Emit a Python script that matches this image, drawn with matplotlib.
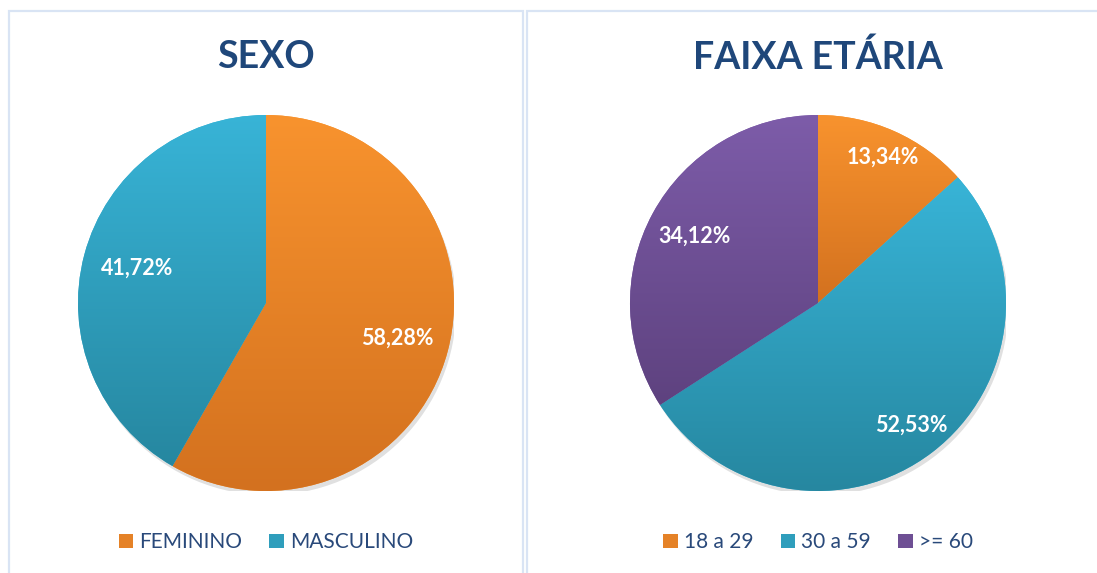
#!/usr/bin/env python3

import numpy as np
import matplotlib
matplotlib.use('Agg')
import matplotlib.pyplot as plt
from matplotlib.colors import LinearSegmentedColormap, to_rgb
from matplotlib.patches import Rectangle, Circle

# Dados
sexo_titulo = 'SEXO'
sexo_labels = ['FEMININO', 'MASCULINO']
sexo_valores = [58.28, 41.72]

faixa_titulo = 'FAIXA ETÁRIA'
faixa_labels = ['18 a 29', '30 a 59', '>= 60']
faixa_valores = [13.34, 52.53, 34.12]

# Cores (topo, base) do gradiente de cada fatia
laranja = ('#F8932E', '#D3711F')
azul = ('#38B4D7', '#2687A0')
roxo = ('#7D5CA9', '#5E427F')

TITULO_COR = '#1F477A'
LEGENDA_COR = '#29497A'
BORDA_COR = '#D9E4F4'

W, H = 1097, 573
plt.rcParams['font.family'] = ['Lato', 'DejaVu Sans']


def fmt(v):
    return f'{v:.2f}'.replace('.', ',') + '%'


def pie_panel(fig, cx, cy, r, titulo, labels, valores, cores, dist):
    ax = fig.add_axes([(cx - r) / W, (H - cy - r) / H, 2 * r / W, 2 * r / H])
    ax.add_patch(Circle((0.012, -0.022), 1.0, color='#000000', alpha=0.12,
                        lw=0, zorder=0))
    wedges, _ = ax.pie(valores, startangle=90, counterclock=False,
                       colors=[c[1] for c in cores], radius=1,
                       wedgeprops=dict(linewidth=0))
    grad = np.linspace(0, 1, 256).reshape(-1, 1)
    for w, (c0, c1) in zip(wedges, cores):
        w.set_zorder(1)
        ext = w.get_path().get_extents()
        cmap = LinearSegmentedColormap.from_list('g', [c0, c1])
        im = ax.imshow(grad, cmap=cmap, aspect='auto', origin='upper',
                       extent=[ext.x0, ext.x1, ext.y0, ext.y1], zorder=2)
        im.set_clip_path(w)
        w.set_facecolor(c0)
    # rótulos de dados
    total = sum(valores)
    acum = 0
    for v, d in zip(valores, dist):
        ang = np.deg2rad(90 - 360 * (acum + v / 2) / total)
        acum += v
        ax.text(d * np.cos(ang), d * np.sin(ang), fmt(v), color='white',
                fontsize=15.5, fontweight='bold', ha='center', va='center',
                zorder=5)
    ax.set_xlim(-1, 1)
    ax.set_ylim(-1, 1)
    ax.axis('off')

    fig.text(cx / W, 1 - 57 / H, titulo, color=TITULO_COR, fontsize=27,
             fontweight='bold', ha='center', va='center')

    handles = []
    for c0, c1 in cores:
        mid = tuple((np.array(to_rgb(c0)) + np.array(to_rgb(c1))) / 2)
        handles.append(Rectangle((0, 0), 1, 1, facecolor=mid, lw=0))
    leg = ax.legend(handles, labels, loc='center',
                    bbox_to_anchor=(0.5, -0.136), ncol=len(labels),
                    frameon=False, fontsize=15, handlelength=0.7,
                    handleheight=0.7, handletextpad=0.3,
                    columnspacing=1.3)
    for t in leg.get_texts():
        t.set_color(LEGENDA_COR)
    return ax


fig = plt.figure(figsize=(W / 100, H / 100), dpi=100)
fig.patch.set_facecolor('white')

# bordas dos painéis
fig.add_artist(Rectangle((9 / W, -0.1), (523 - 9) / W, 1.1 - 11 / H,
                         transform=fig.transFigure, fill=False,
                         edgecolor=BORDA_COR, lw=1.6))
fig.add_artist(Rectangle((527 / W, -0.1), 0.6, 1.1 - 11 / H,
                         transform=fig.transFigure, fill=False,
                         edgecolor=BORDA_COR, lw=1.6))

pie_panel(fig, 266, 303, 188, sexo_titulo, sexo_labels, sexo_valores,
          [laranja, azul], [0.72, 0.71])
pie_panel(fig, 818, 303, 188, faixa_titulo, faixa_labels, faixa_valores,
          [laranja, azul, roxo], [0.85, 0.82, 0.745])

fig.savefig('out.png', dpi=100)
